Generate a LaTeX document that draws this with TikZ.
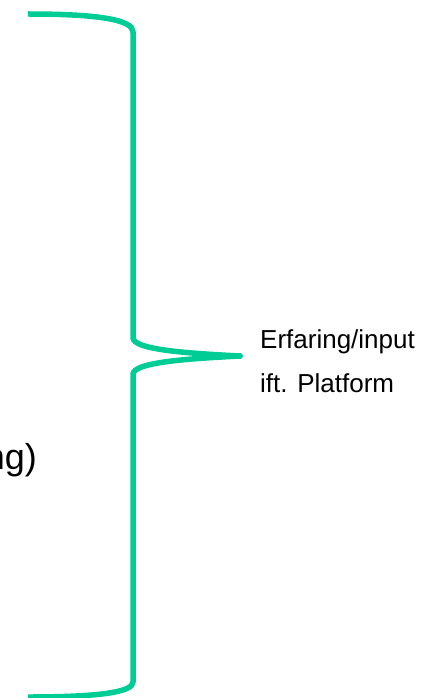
\documentclass[tikz,border=0pt]{standalone}
\usepackage{fontspec}
\setmainfont{Liberation Sans}
\definecolor{bracegreen}{RGB}{0,204,150}
\begin{document}
\begin{tikzpicture}[x=1pt,y=-1pt,
  bracestyle/.style={draw=bracegreen,line width=5.5pt,line join=round},
  lbl/.style={font=\fontsize{26}{31}\selectfont,inner sep=0pt,anchor=base west},
  biglbl/.style={font=\fontsize{36}{43}\selectfont,inner sep=0pt,anchor=base east}]
\useasboundingbox (0,0) rectangle (421,698);
\coordinate (top) at (28,14);
\coordinate (tip) at (240,356);
\coordinate (bot) at (28,697);
\path[bracestyle] (top) .. controls (100,14) and (133,20) .. (133,32)
  -- (133,338) .. controls (134,349) and (180,353) .. (tip)
  .. controls (180,359) and (134,363) .. (133,374)
  -- (133,682) .. controls (133,692) and (100,697) .. (bot);
\draw[bracestyle,line cap=round] (tip) -- ++(-1,0);
\node[lbl] (l1) at (260,348) {Erfaring/input};
\node[lbl] (l2) at (260,392) {ift. Platform};
\node[biglbl] (l3) at (37,469) {ng)};
\end{tikzpicture}
\end{document}
